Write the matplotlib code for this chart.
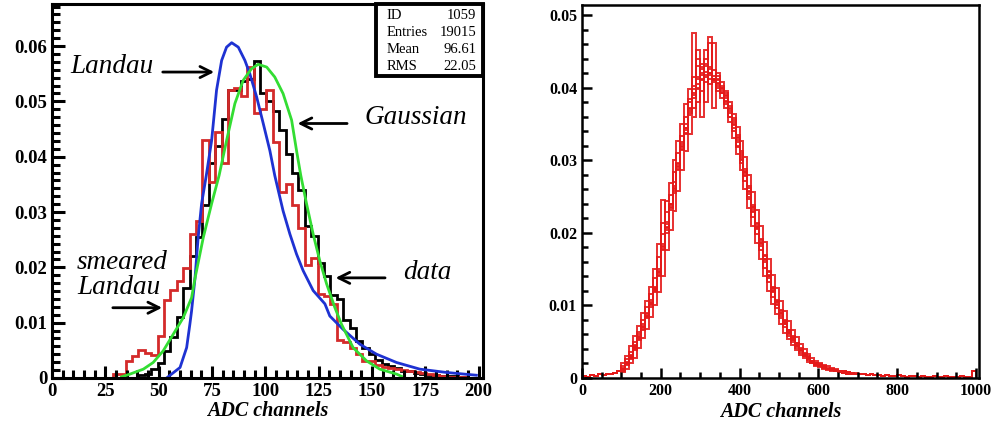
import numpy as np
import matplotlib
matplotlib.use("Agg")
import matplotlib.pyplot as plt
from matplotlib.patches import Rectangle
from matplotlib.ticker import MultipleLocator

plt.rcParams["font.family"] = ["Liberation Serif", "DejaVu Serif"]

# ---- left panel: data histogram, smeared Landau, Landau and Gaussian fits ----
left_bin_start = 28.5
left_bin_width = 3.0
data_hist = [0, 0, 0, 0, 0.0006, 0.0008, 0.0016, 0.0028, 0.0049, 0.0075,
             0.0110, 0.0162, 0.0220, 0.0255, 0.0312, 0.0388, 0.0420, 0.0469, 0.0520, 0.0520,
             0.0537, 0.0540, 0.0573, 0.0515, 0.0500, 0.0482, 0.0448, 0.0405, 0.0370, 0.0340,
             0.0275, 0.0256, 0.0208, 0.0184, 0.0150, 0.0143, 0.0104, 0.0090, 0.0067, 0.0055,
             0.0043, 0.0033, 0.0026, 0.0022, 0.0018, 0.0013, 0.0012, 0.0009, 0.0008, 0.0006,
             0.0005, 0.0004, 0.0003, 0.0003, 0.0002]
smeared_hist = [0.0008, 0.0008, 0.0031, 0.0040, 0.0050, 0.0045, 0.0041, 0.0076, 0.0141, 0.0159,
                0.0176, 0.0198, 0.0260, 0.0284, 0.0430, 0.0354, 0.0445, 0.0388, 0.0521, 0.0525,
                0.0510, 0.0562, 0.0479, 0.0487, 0.0520, 0.0426, 0.0336, 0.0351, 0.0312, 0.0272,
                0.0205, 0.0216, 0.0152, 0.0148, 0.0134, 0.0068, 0.0065, 0.0055, 0.0043, 0.0031,
                0.0030, 0.0024, 0.0020, 0.0018, 0.0016, 0.0015, 0.0013, 0.0011, 0.0009, 0.0007,
                0.0005, 0.0003, 0.0002, 0.0001, 0.0001]

landau_x = [53.7, 57.0, 60.0, 63.1, 64.6, 65.4, 67.0, 68.5, 70.1, 72.3, 74.8, 77.1, 79.5, 81.8,
            84.2, 87.3, 90.4, 92.7, 95.9, 99.0, 102.1, 104.4, 108.3, 111.5, 114.6, 117.7,
            122.4, 127.9, 130.2, 136.4, 144.3, 152.1, 161.5, 172.4, 184.9, 198.9]
landau_y = [0.0, 0.0010, 0.0019, 0.0055, 0.0097, 0.0121, 0.0180, 0.0254, 0.0315, 0.0366, 0.0429,
            0.0520, 0.0574, 0.0598, 0.0606, 0.0598, 0.0574, 0.0550, 0.0508, 0.0460, 0.0411,
            0.0366, 0.0302, 0.0260, 0.0224, 0.0194, 0.0158, 0.0134, 0.0112, 0.0088, 0.0061,
            0.0043, 0.0028, 0.0016, 0.0010, 0.0005]

gauss_x = [32.6, 36.5, 42.8, 47.4, 52.1, 56.8, 61.5, 65.4, 67.0, 70.9, 74.8, 78.3, 81.8, 85.7,
           89.6, 93.5, 96.6, 100.6, 104.4, 108.3, 112.3, 114.6, 116.6, 119.3, 122.4, 125.5,
           128.7, 132.6, 135.7, 141.1, 147.4, 153.6, 161.5, 163.8]
gauss_y = [0.0002, 0.0007, 0.0016, 0.0028, 0.0049, 0.0079, 0.0109, 0.0145, 0.0180, 0.0254, 0.0315,
           0.0366, 0.0429, 0.0496, 0.0538, 0.0559, 0.0567, 0.0562, 0.0544, 0.0514, 0.0466,
           0.0411, 0.0366, 0.0315, 0.0260, 0.0212, 0.0170, 0.0127, 0.0097, 0.0055, 0.0031,
           0.0016, 0.0007, 0.0003]

stats_names = ["ID", "Entries", "Mean", "RMS"]
stats_values = ["1059", "19015", "96.61", "22.05"]

# ---- right panel: overlaid histograms of many channels, 10 ADC bins ----
right_bin_width = 10
tail_low = [0.0003, 0.0002, 0.0004, 0.0003, 0.0005, 0.0004, 0.0006, 0.0005, 0.0007, 0.0009]
tail_high = [0.0005, 0.0006, 0.0004, 0.0005, 0.0004, 0.0004, 0.0003, 0.0004, 0.0003, 0.0003,
             0.0004, 0.0003, 0.0002, 0.0003, 0.0003, 0.0002, 0.0003, 0.0002, 0.0002, 0.0003,
             0.0002, 0.0002, 0.0003, 0.0002, 0.0002, 0.0002, 0.0003, 0.0002, 0.0002, 0.0010]
# core bins cover 100..700 ADC
channel_core = [
    [0.0012, 0.0020, 0.0028, 0.0042, 0.0056, 0.0070, 0.0086, 0.0103, 0.0121, 0.0145,
     0.0180, 0.0208, 0.0236, 0.0262, 0.0292, 0.0318, 0.0341, 0.0368, 0.0390, 0.0405,
     0.0418, 0.0421, 0.0420, 0.0416, 0.0410, 0.0398, 0.0388, 0.0370, 0.0350, 0.0328,
     0.0307, 0.0283, 0.0258, 0.0233, 0.0210, 0.0188, 0.0164, 0.0142, 0.0122, 0.0104,
     0.0090, 0.0077, 0.0064, 0.0055, 0.0046, 0.0039, 0.0032, 0.0028, 0.0023, 0.0020,
     0.0018, 0.0016, 0.0013, 0.0012, 0.0010, 0.0009, 0.0008, 0.0007, 0.0006, 0.0006],
    [0.0020, 0.0030, 0.0044, 0.0058, 0.0072, 0.0090, 0.0106, 0.0125, 0.0150, 0.0184,
     0.0214, 0.0244, 0.0268, 0.0300, 0.0326, 0.0350, 0.0378, 0.0398, 0.0415, 0.0430,
     0.0428, 0.0432, 0.0420, 0.0412, 0.0402, 0.0392, 0.0372, 0.0352, 0.0330, 0.0308,
     0.0286, 0.0260, 0.0234, 0.0210, 0.0186, 0.0164, 0.0140, 0.0120, 0.0102, 0.0088,
     0.0075, 0.0062, 0.0054, 0.0045, 0.0038, 0.0031, 0.0027, 0.0022, 0.0020, 0.0017,
     0.0015, 0.0013, 0.0011, 0.0010, 0.0009, 0.0008, 0.0007, 0.0006, 0.0006, 0.0005],
    [0.0008, 0.0012, 0.0020, 0.0028, 0.0041, 0.0055, 0.0068, 0.0084, 0.0100, 0.0118,
     0.0140, 0.0176, 0.0204, 0.0230, 0.0258, 0.0286, 0.0312, 0.0336, 0.0360, 0.0380,
     0.0396, 0.0408, 0.0412, 0.0410, 0.0406, 0.0400, 0.0390, 0.0380, 0.0364, 0.0346,
     0.0326, 0.0304, 0.0280, 0.0256, 0.0232, 0.0210, 0.0188, 0.0164, 0.0142, 0.0124,
     0.0106, 0.0092, 0.0078, 0.0066, 0.0056, 0.0047, 0.0040, 0.0033, 0.0028, 0.0024,
     0.0020, 0.0018, 0.0016, 0.0014, 0.0012, 0.0010, 0.0009, 0.0008, 0.0007, 0.0006],
    [0.0010, 0.0022, 0.0030, 0.0045, 0.0058, 0.0068, 0.0090, 0.0105, 0.0118, 0.0150,
     0.0176, 0.0212, 0.0240, 0.0265, 0.0290, 0.0322, 0.0345, 0.0372, 0.0398, 0.0412,
     0.0425, 0.0430, 0.0418, 0.0424, 0.0412, 0.0402, 0.0392, 0.0368, 0.0355, 0.0332,
     0.0310, 0.0280, 0.0262, 0.0236, 0.0208, 0.0190, 0.0168, 0.0140, 0.0125, 0.0102,
     0.0092, 0.0075, 0.0066, 0.0053, 0.0048, 0.0038, 0.0034, 0.0027, 0.0024, 0.0019,
     0.0019, 0.0015, 0.0014, 0.0011, 0.0011, 0.0008, 0.0009, 0.0006, 0.0007, 0.0005],
    [0.0014, 0.0018, 0.0026, 0.0040, 0.0054, 0.0074, 0.0084, 0.0100, 0.0124, 0.0142,
     0.0184, 0.0204, 0.0232, 0.0258, 0.0296, 0.0314, 0.0338, 0.0380, 0.0475, 0.0398,
     0.0410, 0.0415, 0.0470, 0.0410, 0.0405, 0.0395, 0.0382, 0.0375, 0.0345, 0.0325,
     0.0302, 0.0288, 0.0254, 0.0230, 0.0214, 0.0184, 0.0160, 0.0146, 0.0118, 0.0108,
     0.0086, 0.0080, 0.0062, 0.0058, 0.0044, 0.0040, 0.0030, 0.0030, 0.0022, 0.0021,
     0.0017, 0.0017, 0.0012, 0.0013, 0.0009, 0.0010, 0.0007, 0.0008, 0.0005, 0.0007],
    [0.0012, 0.0020, 0.0032, 0.0038, 0.0060, 0.0066, 0.0088, 0.0108, 0.0120, 0.0146,
     0.0245, 0.0200, 0.0238, 0.0270, 0.0288, 0.0315, 0.0350, 0.0365, 0.0372, 0.0440,
     0.0360, 0.0452, 0.0425, 0.0412, 0.0416, 0.0392, 0.0395, 0.0365, 0.0348, 0.0335,
     0.0300, 0.0285, 0.0250, 0.0238, 0.0205, 0.0186, 0.0170, 0.0138, 0.0120, 0.0106,
     0.0088, 0.0078, 0.0060, 0.0056, 0.0044, 0.0041, 0.0031, 0.0029, 0.0022, 0.0020,
     0.0017, 0.0016, 0.0013, 0.0012, 0.0010, 0.0009, 0.0008, 0.0007, 0.0006, 0.0006],
    [0.0011, 0.0021, 0.0027, 0.0043, 0.0055, 0.0072, 0.0082, 0.0102, 0.0126, 0.0148,
     0.0178, 0.0215, 0.0234, 0.0255, 0.0295, 0.0325, 0.0336, 0.0362, 0.0385, 0.0415,
     0.0432, 0.0418, 0.0405, 0.0462, 0.0400, 0.0408, 0.0378, 0.0372, 0.0352, 0.0320,
     0.0312, 0.0278, 0.0265, 0.0228, 0.0212, 0.0182, 0.0162, 0.0148, 0.0120, 0.0100,
     0.0094, 0.0074, 0.0066, 0.0052, 0.0048, 0.0037, 0.0033, 0.0026, 0.0024, 0.0019,
     0.0018, 0.0016, 0.0013, 0.0012, 0.0009, 0.0009, 0.0007, 0.0007, 0.0006, 0.0005],
    [0.0013, 0.0019, 0.0029, 0.0044, 0.0052, 0.0070, 0.0086, 0.0098, 0.0122, 0.0140,
     0.0182, 0.0206, 0.0240, 0.0260, 0.0286, 0.0320, 0.0344, 0.0370, 0.0392, 0.0400,
     0.0412, 0.0440, 0.0428, 0.0372, 0.0420, 0.0400, 0.0385, 0.0360, 0.0358, 0.0330,
     0.0305, 0.0284, 0.0256, 0.0235, 0.0206, 0.0192, 0.0164, 0.0140, 0.0124, 0.0104,
     0.0090, 0.0076, 0.0063, 0.0055, 0.0047, 0.0039, 0.0032, 0.0028, 0.0023, 0.0020,
     0.0018, 0.0016, 0.0013, 0.0012, 0.0010, 0.0009, 0.0008, 0.0006, 0.0006, 0.0005],
    [0.0016, 0.0026, 0.0036, 0.0050, 0.0064, 0.0080, 0.0098, 0.0116, 0.0138, 0.0166,
     0.0198, 0.0228, 0.0252, 0.0284, 0.0310, 0.0334, 0.0360, 0.0384, 0.0402, 0.0452,
     0.0420, 0.0380, 0.0462, 0.0408, 0.0395, 0.0385, 0.0380, 0.0360, 0.0340, 0.0318,
     0.0296, 0.0272, 0.0246, 0.0222, 0.0198, 0.0176, 0.0152, 0.0132, 0.0112, 0.0096,
     0.0082, 0.0070, 0.0058, 0.0050, 0.0042, 0.0035, 0.0030, 0.0025, 0.0021, 0.0018,
     0.0016, 0.0014, 0.0012, 0.0011, 0.0009, 0.0008, 0.0007, 0.0006, 0.0006, 0.0005],
]


def style_axis(ax, lw, major_len, minor_len, labelsize):
    for s in ax.spines.values():
        s.set_linewidth(lw)
    ax.tick_params(axis="both", which="both", direction="in", top=False, right=False,
                   width=lw, labelsize=labelsize)
    ax.tick_params(which="major", length=major_len)
    ax.tick_params(which="minor", length=minor_len)
    for lab in ax.get_xticklabels() + ax.get_yticklabels():
        lab.set_fontweight("bold")


fig = plt.figure(figsize=(9.93, 4.25), dpi=100)

# left panel
ax1 = fig.add_axes([0.0524, 0.1106, 0.434, 0.880])
edges_d = left_bin_start + left_bin_width * np.arange(len(data_hist) + 1)
edges_s = left_bin_start + left_bin_width * np.arange(len(smeared_hist) + 1)
ax1.stairs(data_hist, edges_d, color="black", linewidth=2.0)
ax1.stairs(smeared_hist, edges_s, color="#d42a2a", linewidth=2.0)
ax1.plot(landau_x, landau_y, color="#1e32d2", linewidth=2.0)
ax1.plot(gauss_x, gauss_y, color="#33dd33", linewidth=2.0)
ax1.set_xlim(0, 202)
ax1.set_ylim(0, 0.0676)
ax1.xaxis.set_major_locator(MultipleLocator(25))
ax1.xaxis.set_minor_locator(MultipleLocator(5))
ax1.yaxis.set_major_locator(MultipleLocator(0.01))
ax1.yaxis.set_minor_locator(MultipleLocator(0.01 / 7))
ax1.yaxis.set_major_formatter(lambda v, p: "0" if v == 0 else f"{v:.2f}")
style_axis(ax1, 2.2, 9, 6, 13.5)
ax1.set_xlabel("ADC channels", fontsize=14.5, fontweight="bold", fontstyle="italic", labelpad=1)

ann_font = dict(fontsize=19.5, fontstyle="italic", color="black")
arrow = dict(arrowstyle="->", lw=2.0, color="black", mutation_scale=20)
ax1.text(8.4, 0.0563, "Landau", va="center", ha="left", **ann_font)
ax1.annotate("", xy=(77.3, 0.0553), xytext=(50.6, 0.0553), arrowprops=arrow)
ax1.text(146.6, 0.0471, "Gaussian", va="center", ha="left", **ann_font)
ax1.annotate("", xy=(113.8, 0.0460), xytext=(139.6, 0.0460), arrowprops=arrow)
ax1.text(11.7, 0.0208, "smeared", va="center", ha="left", **ann_font)
ax1.text(11.7, 0.0163, "Landau", va="center", ha="left", **ann_font)
ax1.annotate("", xy=(52.9, 0.0127), xytext=(27.2, 0.0127), arrowprops=arrow)
ax1.text(164.4, 0.0190, "data", va="center", ha="left", **ann_font)
ax1.annotate("", xy=(131.6, 0.0181), xytext=(157.4, 0.0181), arrowprops=arrow)

# statistics box
ax1.add_patch(Rectangle((0.752, 0.807), 0.248, 0.193, transform=ax1.transAxes,
                        facecolor="white", edgecolor="black", linewidth=2.8, zorder=5,
                        clip_on=False))
for i, (nm, val) in enumerate(zip(stats_names, stats_values)):
    yy = 0.970 - i * 0.0455
    ax1.text(0.777, yy, nm, transform=ax1.transAxes, fontsize=10.5, va="center",
             ha="left", zorder=6)
    ax1.text(0.985, yy, val, transform=ax1.transAxes, fontsize=10.5, va="center",
             ha="right", zorder=6)

# right panel
ax2 = fig.add_axes([0.586, 0.1106, 0.400, 0.878])
edges_r = np.arange(0, 1000 + right_bin_width, right_bin_width)
for core in channel_core:
    vals = tail_low + core + tail_high
    ax2.stairs(vals, edges_r, color="#e41a1a", linewidth=1.4, alpha=0.9)
ax2.set_xlim(0, 1008)
ax2.set_ylim(0, 0.0514)
ax2.xaxis.set_major_locator(MultipleLocator(200))
ax2.xaxis.set_minor_locator(MultipleLocator(50))
ax2.yaxis.set_major_locator(MultipleLocator(0.01))
ax2.yaxis.set_minor_locator(MultipleLocator(0.002))
ax2.yaxis.set_major_formatter(lambda v, p: "0" if v == 0 else f"{v:.2f}")
style_axis(ax2, 1.8, 7, 4, 11.5)
ax2.set_xlabel("ADC channels", fontsize=14.5, fontweight="bold", fontstyle="italic", labelpad=2)

fig.savefig("out.png", dpi=100)
